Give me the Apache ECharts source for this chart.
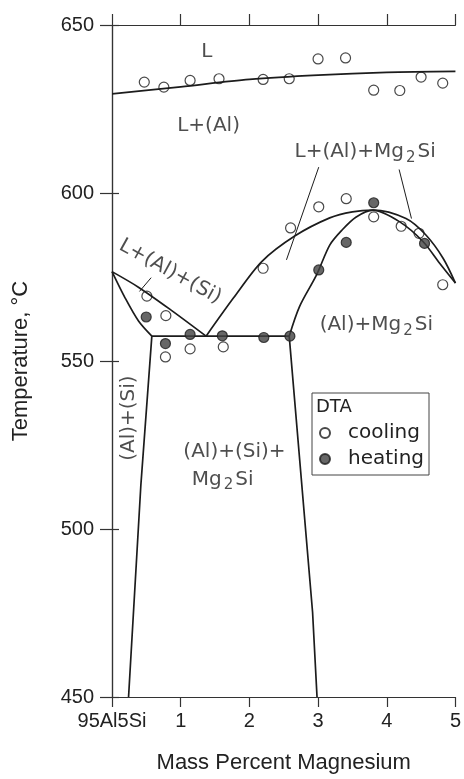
<!DOCTYPE html>
<html lang="en">

<head>
  <meta charset="UTF-8">
  <title>Al-Si-Mg section</title>
  <script src="https://cdn.jsdelivr.net/npm/echarts@6/dist/echarts.min.js"></script>
  <style>
    * {
      padding: 0;
      margin: 0;
    }

    #main {
      width: 464px;
      height: 779px;
      background: #fff;
    }
  </style>
</head>

<body>
  <div id="main"></div>
  <script>
    // phase boundaries, [mass % Mg, temperature C]
    var liquidusAl = [[0, 629.5], [1, 631.6], [2, 633.8], [3, 635.1], [4, 635.9], [5, 636.2]];
    var eutecticLeft = [[0, 576.6], [0.19, 568.8], [0.386, 561.9], [0.58, 557.4]];
    var eutecticUpper = [[0, 576.6], [0.39, 571.9], [0.87, 565], [1.37, 557.4]];
    var ternaryLine = [[0.58, 557.4], [2.58, 557.4]];
    var mg2siUpper = [[1.37, 557.4], [1.77, 568.8], [2.18, 579.6], [2.66, 587.2], [3.17, 592.6], [3.5, 594.4], [3.8, 594.9],
      [4.28, 592.4], [4.57, 587.5], [4.82, 580.6], [5, 573.2]];
    var mg2siLower = [[2.58, 557.4], [2.73, 566.2], [2.98, 575.7], [3.17, 584.5], [3.35, 589], [3.55, 592.8], [3.8, 594.9],
      [4.19, 591.4], [4.53, 585.5], [4.77, 579.1], [5, 573.2]];
    var solvusLeft = [[0.58, 557.4], [0.42, 513], [0.241, 450]];
    var solvusRight = [[2.58, 557.4], [2.92, 475.3], [2.985, 450]];

    // DTA measurements
    var cooling = [[0.47, 633.0], [0.755, 631.5], [1.137, 633.5], [1.558, 634.0], [2.2, 633.8], [2.58, 634.0], [3.0, 639.9],
      [3.4, 640.2], [3.81, 630.6], [4.19, 630.5], [4.5, 634.5], [4.815, 632.7],
      [0.508, 569.3], [0.784, 563.5], [0.778, 551.2], [1.137, 553.6], [1.62, 554.2], [2.2, 577.6], [2.6, 589.6],
      [3.01, 595.9], [3.41, 598.3], [3.81, 592.9], [4.21, 590.1], [4.47, 588.0], [4.815, 572.7]];
    var heating = [[0.498, 563.1], [0.778, 555.2], [1.137, 557.9], [1.606, 557.5], [2.21, 557.0], [2.59, 557.4],
      [3.01, 577.1], [3.41, 585.3], [3.81, 597.1], [4.55, 585.0]];

    // leader lines for the labels
    var leaderA = [[3.01, 607.7], [2.54, 580.1]];
    var leaderB = [[4.18, 607], [4.36, 592.4]];
    var leaderC = [[0.40, 570.7], [0.57, 574.8]];

    var xTicks = [0, 1, 2, 3, 4, 5];
    var yTicks = [450, 500, 550, 600, 650];

    // phase field labels: x, y, text
    var regionLabels = [
      [1.379, 642.1, 'L'],
      [1.406, 620.0, 'L+(Al)'],
      [3.685, 612.2, 'L+(Al)+Mg{s|2}Si'],
      [0.847, 576.6, 'L+(Al)+(Si)'],
      [0.25, 533.0, '(Al)+(Si)'],
      [1.783, 523.0, '(Al)+(Si)+'],
      [1.61, 514.7, 'Mg{s|2}Si'],
      [3.848, 560.7, '(Al)+Mg{s|2}Si']
    ];
    var labelRotate = { 'L+(Al)+(Si)': -29, '(Al)+(Si)': 90 };

    var chartDom = document.getElementById('main');
    var myChart = echarts.init(chartDom);
    var option;

    var ink = '#1c1c1c';
    var tickFont = 'Liberation Sans, Arial, sans-serif';
    var plotFont = 'DejaVu Sans, sans-serif';

    function curve(data, smooth) {
      return {
        type: 'line',
        data: data,
        symbol: 'none',
        smooth: smooth ? 0.3 : false,
        lineStyle: { color: ink, width: 1.7 },
        silent: true,
        z: 2
      };
    }

    function leader(data) {
      return {
        type: 'line',
        data: data,
        symbol: 'none',
        lineStyle: { color: ink, width: 1 },
        silent: true,
        z: 2
      };
    }

    var axisCommon = {
      type: 'value',
      axisLine: { show: true, lineStyle: { color: '#333', width: 1.2 } },
      axisTick: { show: true, inside: false, lineStyle: { color: '#333', width: 1.2 } },
      splitLine: { show: false }
    };

    option = {
      animation: false,
      backgroundColor: '#fff',
      grid: { left: 112, right: 8, top: 25, bottom: 77 },
      xAxis: [
        Object.assign({}, axisCommon, {
          position: 'bottom',
          min: xTicks[0], max: xTicks[xTicks.length - 1], interval: 1,
          axisTick: Object.assign({}, axisCommon.axisTick, { length: 10 }),
          axisLabel: {
            fontSize: 20, color: '#222', fontFamily: tickFont, margin: 14,
            formatter: function (v) { return v === 0 ? '95Al5Si' : String(v); }
          },
          name: 'Mass Percent Magnesium',
          nameLocation: 'middle',
          nameGap: 55,
          nameTextStyle: { fontSize: 22, color: '#222', fontFamily: tickFont }
        }),
        Object.assign({}, axisCommon, {
          position: 'top',
          min: xTicks[0], max: xTicks[xTicks.length - 1], interval: 1,
          axisTick: Object.assign({}, axisCommon.axisTick, { length: 11 }),
          axisLabel: { show: false }
        })
      ],
      yAxis: [
        Object.assign({}, axisCommon, {
          position: 'left',
          min: yTicks[0], max: yTicks[yTicks.length - 1], interval: 50,
          axisTick: Object.assign({}, axisCommon.axisTick, { length: 12 }),
          axisLabel: { fontSize: 20, color: '#222', fontFamily: tickFont, margin: 18 },
          name: 'Temperature, °C',
          nameLocation: 'middle',
          nameGap: 80,
          nameTextStyle: { fontSize: 22, color: '#222', fontFamily: tickFont }
        }),
        Object.assign({}, axisCommon, {
          position: 'right',
          min: yTicks[0], max: yTicks[yTicks.length - 1], interval: 50,
          axisTick: Object.assign({}, axisCommon.axisTick, { length: 7 }),
          axisLabel: { show: false }
        })
      ],
      legend: {
        orient: 'vertical',
        left: 312,
        top: 393,
        padding: [30, 5, 6, 7],
        itemGap: 6,
        itemWidth: 10,
        itemHeight: 10,
        borderColor: '#444',
        borderWidth: 1,
        data: [
          { name: 'cooling', icon: 'circle' },
          { name: 'heating', icon: 'circle' }
        ],
        textStyle: { fontSize: 20, color: '#222', fontFamily: plotFont, padding: [0, 0, 0, 13] }
      },
      graphic: [
        {
          type: 'text',
          left: 316,
          top: 398,
          style: { text: 'DTA', fontSize: 18, fill: '#222', fontFamily: plotFont }
        }
      ],
      series: [
        curve(liquidusAl, true),
        curve(eutecticLeft, true),
        curve(eutecticUpper, true),
        curve(ternaryLine, false),
        curve(mg2siUpper, true),
        curve(mg2siLower, true),
        curve(solvusLeft, false),
        curve(solvusRight, false),
        leader(leaderA),
        leader(leaderB),
        leader(leaderC),
        {
          name: 'cooling',
          type: 'scatter',
          data: cooling,
          symbol: 'circle',
          symbolSize: 10,
          itemStyle: { color: 'rgba(255,255,255,0)', borderColor: ink, borderWidth: 1.2 },
          z: 4
        },
        {
          name: 'heating',
          type: 'scatter',
          data: heating,
          symbol: 'circle',
          symbolSize: 10,
          itemStyle: { color: '#414141', borderColor: ink, borderWidth: 1.2 },
          z: 4
        },
        {
          type: 'scatter',
          silent: true,
          symbolSize: 1,
          itemStyle: { color: 'rgba(0,0,0,0)' },
          data: regionLabels.map(function (d) {
            return {
              value: [d[0], d[1]],
              label: { rotate: labelRotate[d[2]] || 0, formatter: d[2] }
            };
          }),
          label: {
            show: true,
            position: 'inside',
            fontSize: 20,
            color: '#222',
            fontFamily: plotFont,
            rich: {
              s: { fontSize: 15, fontFamily: plotFont, color: '#222', verticalAlign: 'bottom', padding: [12, 2, 0, 2] }
            }
          },
          z: 5
        }
      ]
    };

    option && myChart.setOption(option);
  </script>
</body>

</html>
